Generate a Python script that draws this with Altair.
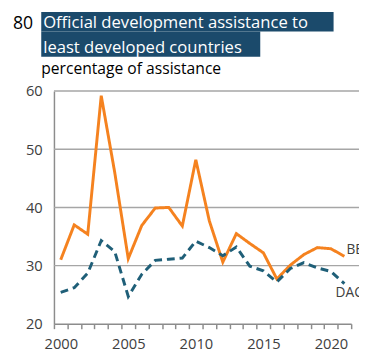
import altair as alt
import pandas as pd

years = list(range(2000, 2022))
be = [31.0, 37.0, 35.4, 59.2, 46.0, 31.2, 36.9, 39.9, 40.0, 36.8, 48.2,
      37.7, 30.6, 35.5, 33.8, 32.2, 27.7, 30.1, 31.9, 33.1, 32.9, 31.6]
dac = [25.4, 26.2, 28.7, 34.3, 32.4, 24.7, 28.5, 30.9, 31.1, 31.3, 34.2,
       33.1, 31.7, 33.2, 29.9, 29.1, 27.2, 29.5, 30.5, 29.6, 29.0, 26.9]
series_names = ["BE", "DAC"]
series_colors = ["#F5821F", "#1F5F78"]
grid_values = [30, 40, 50, 60]
y_ticks = [20, 30, 40, 50, 60]
chart_number = "80"
title_lines = ["Official development assistance to", "least developed countries"]
subtitle = "percentage of assistance"

rows = []
for yr, b, d in zip(years, be, dac):
    rows.append({"year": yr, "series": "BE", "value": b})
    rows.append({"year": yr, "series": "DAC", "value": d})
df = pd.DataFrame(rows)

W, H = 304, 238
FONT = "Open Sans"
x_scale = alt.Scale(domain=[1999.5, 2021.5], nice=False, zero=False)
y_scale = alt.Scale(domain=[20, 60], nice=False, zero=False)
color_scale = alt.Scale(domain=series_names, range=series_colors)
dash_scale = alt.Scale(domain=series_names, range=[[1, 0], [8, 5]])
tick_vals = [v - 0.5 for v in years] + [years[-1] + 0.5]

x_axis = alt.Axis(
    values=tick_vals,
    labelExpr="(datum.value + 0.5) % 5 == 0 ? format(datum.value + 0.5, 'd') : ''",
    labelOffset=7,
    tickSize=5,
    labelPadding=8,
    labelOverlap=False,
    labelFlush=False,
    grid=False,
    title=None,
)
y_axis = alt.Axis(values=y_ticks, ticks=False, grid=False, labelPadding=12, title=None)

one = pd.DataFrame({"k": [0]})

grid = alt.Chart(pd.DataFrame({"value": grid_values})).mark_rule(
    color="#A6A6A6", strokeWidth=1.5
).encode(
    y=alt.Y("value:Q", scale=y_scale, axis=y_axis),
    x=alt.value(0),
    x2=alt.value(312),
)

lines = alt.Chart(df).mark_line(strokeWidth=3, strokeCap="butt").encode(
    x=alt.X("year:Q", scale=x_scale, axis=x_axis),
    y=alt.Y("value:Q", scale=y_scale, axis=y_axis),
    color=alt.Color("series:N", scale=color_scale, legend=None),
    strokeDash=alt.StrokeDash("series:N", scale=dash_scale, legend=None),
)

lab_be = alt.Chart(pd.DataFrame({"year": [years[-1]], "value": [be[-1]], "t": ["BE"]})).mark_text(
    align="left", baseline="middle", dx=2, dy=-6, font=FONT, fontSize=14, color="#404040"
).encode(x=alt.X("year:Q", scale=x_scale, axis=x_axis),
         y=alt.Y("value:Q", scale=y_scale, axis=y_axis), text="t:N")

lab_dac = alt.Chart(pd.DataFrame({"year": [years[-1]], "value": [dac[-1]], "t": ["DAC"]})).mark_text(
    align="left", baseline="middle", dx=-9, dy=10, font=FONT, fontSize=14, color="#404040"
).encode(x=alt.X("year:Q", scale=x_scale, axis=x_axis),
         y=alt.Y("value:Q", scale=y_scale, axis=y_axis), text="t:N")

bg1 = alt.Chart(one).mark_rect(color="#1B4A6B").encode(
    x=alt.value(-13), x2=alt.value(286), y=alt.value(-81), y2=alt.value(-61))
bg2 = alt.Chart(one).mark_rect(color="#1B4A6B").encode(
    x=alt.value(-13), x2=alt.value(211), y=alt.value(-61), y2=alt.value(-35))

t_num = alt.Chart(one).mark_text(align="left", baseline="alphabetic", font=FONT, fontSize=18, color="#000000").encode(
    x=alt.value(-42), y=alt.value(-64), text=alt.value(chart_number))
t1 = alt.Chart(one).mark_text(align="left", baseline="alphabetic", font=FONT, fontSize=17, color="#FFFFFF").encode(
    x=alt.value(-11), y=alt.value(-65), text=alt.value(title_lines[0]))
t2 = alt.Chart(one).mark_text(align="left", baseline="alphabetic", font=FONT, fontSize=17, color="#FFFFFF").encode(
    x=alt.value(-11), y=alt.value(-39), text=alt.value(title_lines[1]))
t3 = alt.Chart(one).mark_text(align="left", baseline="alphabetic", font=FONT, fontSize=16, color="#000000").encode(
    x=alt.value(-13), y=alt.value(-17), text=alt.value(subtitle))

chart = alt.layer(grid, lines, lab_be, lab_dac, bg1, bg2, t_num, t1, t2, t3).properties(
    width=W, height=H,
    autosize=alt.AutoSizeParams(type="none"),
    padding={"left": 47, "top": 81, "right": 8, "bottom": 31},
).configure_view(stroke=None).configure_axis(
    labelFont=FONT, labelColor="#404040", labelFontSize=15,
    domainColor="#8C8C8C", domainWidth=1.5, tickColor="#8C8C8C", tickWidth=1.5,
)

chart.save("out.html", embed_options={"renderer": "svg", "actions": False})
